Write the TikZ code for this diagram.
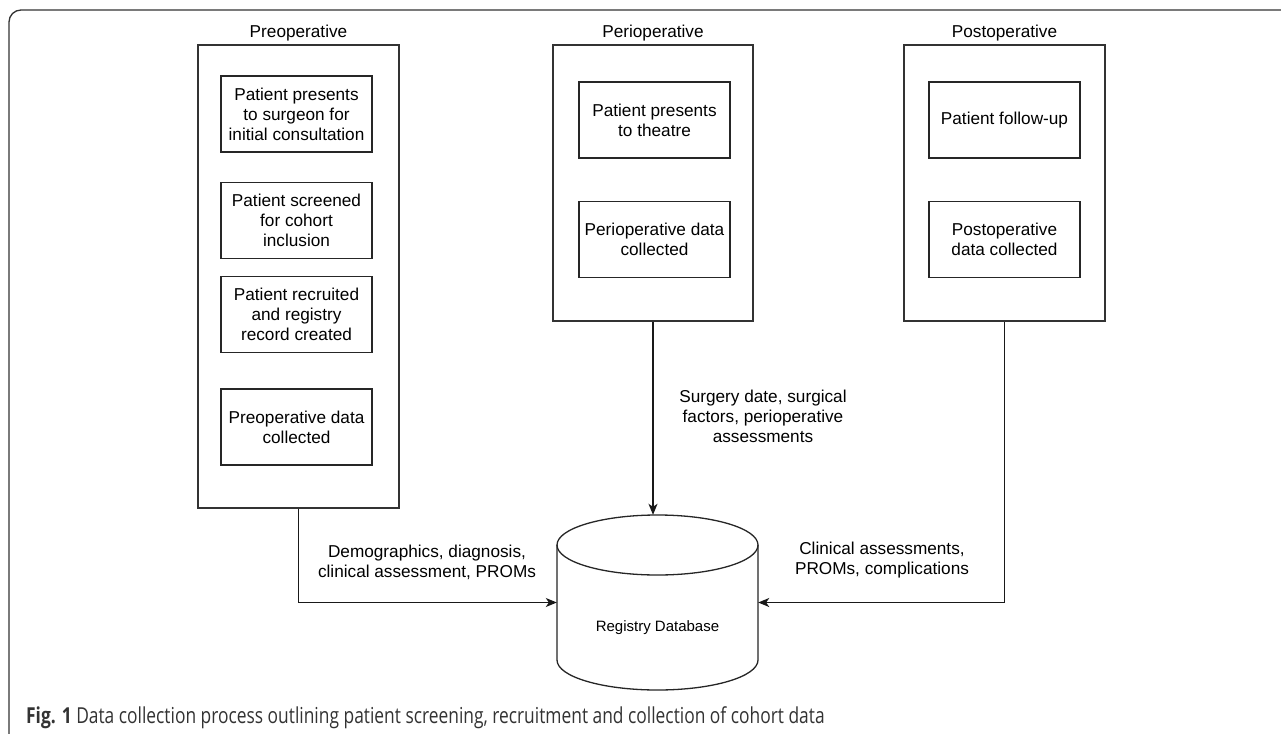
\documentclass[tikz,border=0pt]{standalone}
\usepackage{fontspec}
\setmainfont{Liberation Sans}
\newfontfamily\capfont[FakeStretch=0.79]{Open Sans}
\usetikzlibrary{arrows.meta}
\begin{document}
\begin{tikzpicture}[x=1pt,y=-1pt,
  every node/.style={font=\fontsize{17.2}{20}\selectfont, text=black},
  stage/.style={draw=black!80, line width=1.4pt, rectangle, minimum width=201pt, inner sep=0},
  stepbox/.style={draw=black!85, line width=1.3pt, rectangle, minimum width=151pt, minimum height=76pt, align=center, inner sep=0},
  ttl/.style={inner sep=0},
  lbl/.style={align=center, inner sep=0},
  arr/.style={draw=black!90, line width=1.3pt, -{Stealth[length=11pt,width=9pt,inset=3pt]}},
  shapeline/.style={draw=black!85, line width=1.3pt}
]
\useasboundingbox (0,0) rectangle (1281,733);
\fill[white] (0,0) rectangle (1281,733);
% outer frame
\draw[line width=1.3pt, black!80, rounded corners=12pt] (9,745) -- (9,10) -- (1295,10);

% Preoperative
\node[stage, minimum height=463pt] (pre) at (298.5,276.5) {};
\node[ttl] (preT) at (298.5,33) {Preoperative};
\node[stepbox] (pre1) at (296.5,114) {Patient presents\\to surgeon for\\initial consultation};
\node[stepbox] (pre2) at (296.5,220.5) {Patient screened\\for cohort\\inclusion};
\node[stepbox] (pre3) at (296.5,314.5) {Patient recruited\\and registry\\record created};
\node[stepbox] (pre4) at (296.5,427) {Preoperative data\\collected};

% Perioperative
\node[stage, minimum height=276pt, minimum width=200pt] (peri) at (653,183) {};
\node[ttl] (periT) at (653,33) {Perioperative};
\node[stepbox] (peri1) at (654.5,120) {Patient presents\\to theatre};
\node[stepbox] (peri2) at (654.5,239.5) {Perioperative data\\collected};

% Postoperative
\node[stage, minimum height=276pt] (post) at (1004.5,183) {};
\node[ttl] (postT) at (1004.5,33) {Postoperative};
\node[stepbox] (post1) at (1004.5,120) {Patient follow-up};
\node[stepbox] (post2) at (1004.5,239.5) {Postoperative\\data collected};

% Database (cylinder)
\node[rectangle, minimum width=201pt, minimum height=175pt, inner sep=0] (db) at (657.5,602.5) {};
\draw[shapeline] (657.5,545) ellipse [x radius=100.5, y radius=30];
\draw[shapeline] (557,545) -- (557,660)
  .. controls (557,676.6) and (602,690) .. (657.5,690)
  .. controls (713,690) and (758,676.6) .. (758,660) -- (758,545);
\node[font=\fontsize{15}{18}\selectfont, inner sep=0] (dbT) at (657.5,628) {Registry Database};

% connectors
\draw[arr] (pre.south) |- (db.west);
\draw[arr] (peri.south) -- (peri.south |- db.north);
\draw[arr] (post.south) |- (db.east);

% labels
\node[lbl] (l1) at (427,562) {Demographics, diagnosis,\\clinical assessment, PROMs};
\node[lbl] (l2) at (763,416) {Surgery date, surgical\\factors, perioperative\\assessments};
\node[lbl] (l3) at (882,560) {Clinical assessments,\\PROMs, complications};

% caption
\node[anchor=base west, inner sep=0, font=\capfont\fontsize{22}{26}\selectfont, text=black!80] (cap) at (26,723) {\textbf{Fig. 1} Data collection process outlining patient screening, recruitment and collection of cohort data};
\end{tikzpicture}
\end{document}
